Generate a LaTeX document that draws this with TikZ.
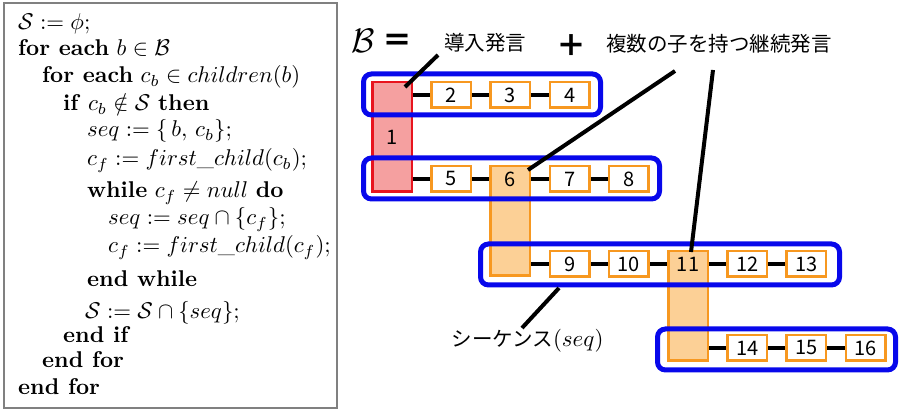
\documentclass[tikz,border=0pt]{standalone}
\usepackage{fontspec}
\newfontfamily\jp{Noto Sans CJK JP}
\definecolor{blueB}{RGB}{8,8,235}
\definecolor{orangeB}{RGB}{247,152,32}
\definecolor{orangeF}{RGB}{252,208,150}
\definecolor{redB}{RGB}{232,20,30}
\definecolor{redF}{RGB}{245,160,160}
\definecolor{frameG}{RGB}{128,128,128}
\newcommand{\cl}[1]{\scalebox{2.28}{#1}}
\begin{document}
\begin{tikzpicture}[x=1pt,y=-1pt,
  cell/.style={draw=orangeB, line width=2.5pt, fill=white, minimum width=39.5pt, minimum height=25.5pt, inner sep=0pt, font=\jp\fontsize{20}{24}\selectfont},
  tallcell/.style={cell, fill=orangeF, minimum height=109.5pt},
  redcell/.style={tallcell, draw=redB, fill=redF},
  numtext/.style={inner sep=0pt, font=\jp\fontsize{20}{24}\selectfont},
  seqbox/.style={draw=blueB, line width=5pt, rounded corners=8pt, inner sep=0pt},
  link/.style={line width=4.5pt},
  callout/.style={line width=4pt},
  code/.style={anchor=base west, inner sep=0pt, font=\normalsize},
  jlabel/.style={inner sep=0pt, font=\jp\fontsize{20.5}{24}\selectfont}]
\useasboundingbox (0,0) rectangle (900,411);
% left frame with pseudocode
\node[draw=frameG, line width=2pt, minimum width=333pt, minimum height=405pt, inner sep=0pt, anchor=north west] (frame) at (2.5,2.5) {};
\node[code] (l1) at (18,30) {\cl{$\mathcal{S} := \phi;$}};
\node[code] (l2) at (18,56) {\cl{\textbf{for each} $b \in \mathcal{B}$}};
\node[code] (l3) at (42,83) {\cl{\textbf{for each} $c_b \in children(b)$}};
\node[code] (l4) at (63,111) {\cl{\textbf{if} $c_b \notin \mathcal{S}$ \textbf{then}}};
\node[code] (l5) at (87,137) {\cl{$seq := \{\, b,\, c_b\};$}};
\node[code] (l6) at (87,166) {\cl{$c_f := first\_child(c_b);$}};
\node[code] (l7) at (87,198) {\cl{\textbf{while} $c_f \neq null$ \textbf{do}}};
\node[code] (l8) at (108,225) {\cl{$seq := seq \cap \{c_f\};$}};
\node[code] (l9) at (108,253) {\cl{$c_f := first\_child(c_f);$}};
\node[code] (l10) at (87,287) {\cl{\textbf{end while}}};
\node[code] (l11) at (85,319) {\cl{$\mathcal{S} := \mathcal{S} \cap \{seq\};$}};
\node[code] (l12) at (63,343) {\cl{\textbf{end if}}};
\node[code] (l13) at (42,368) {\cl{\textbf{end for}}};
\node[code] (l14) at (18,395) {\cl{\textbf{end for}}};
% header
\node[anchor=base, inner sep=0pt] (B) at (363,53) {\scalebox{3.4}{$\mathcal{B}$}};
\node[inner sep=0pt, font=\jp\bfseries\fontsize{30}{34}\selectfont] (eq) at (397,43) {＝};
\node[jlabel] (intro) at (485,42.5) {導入発言};
\node[inner sep=0pt, font=\jp\bfseries\fontsize{30}{34}\selectfont] (plus) at (571.5,46) {＋};
\node[jlabel] (multi) at (719,44) {複数の子を持つ継続発言};
% tall cells
\node[redcell] (t1) at (392,137) {1};
\node[tallcell] (t6) at (510.4,221) {};
\node[tallcell] (t11) at (688,306) {};
% sequence boxes
\node[seqbox, minimum width=237pt, minimum height=41pt] (s1) at (482,94.5) {};
\node[seqbox, minimum width=296pt, minimum height=41pt] (s2) at (511.5,178.5) {};
\node[seqbox, minimum width=359pt, minimum height=41pt] (s3) at (660,264.5) {};
\node[seqbox, minimum width=238pt, minimum height=41pt] (s4) at (776.5,349.5) {};
% cells
\node[cell] (n2) at (451.2,95) {2};
\node[cell] (n3) at (510.4,95) {3};
\node[cell] (n4) at (569.6,95) {4};
\node[cell] (n5) at (451.2,179) {5};
\node[numtext] (n6) at (510.4,179) {6};
\node[cell] (n7) at (569.6,179) {7};
\node[cell] (n8) at (628.8,179) {8};
\node[cell] (n9) at (569.6,264) {9};
\node[cell] (n10) at (628.8,264) {10};
\node[numtext] (n11) at (688,264) {11};
\node[cell] (n12) at (747.2,264) {12};
\node[cell] (n13) at (806.4,264) {13};
\node[cell] (n14) at (747.2,348) {14};
\node[cell] (n15) at (806.4,348) {15};
\node[cell] (n16) at (865.6,348) {16};
% links
\draw[link] (t1.east |- n2) -- (n2.west);
\draw[link] (n2) -- (n3);
\draw[link] (n3) -- (n4);
\draw[link] (t1.east |- n5) -- (n5.west);
\draw[link] (n5.east) -- (t6.west |- n5);
\draw[link] (t6.east |- n7) -- (n7.west);
\draw[link] (n7) -- (n8);
\draw[link] (t6.east |- n9) -- (n9.west);
\draw[link] (n9) -- (n10);
\draw[link] (n10.east) -- (t11.west |- n10);
\draw[link] (t11.east |- n12) -- (n12.west);
\draw[link] (n12) -- (n13);
\draw[link] (t11.east |- n14) -- (n14.west);
\draw[link] (n14) -- (n15);
\draw[link] (n15) -- (n16);
% redraw cells over link ends
\foreach \c/\t in {n2/2,n3/3,n4/4,n5/5,n7/7,n8/8,n9/9,n10/10,n12/12,n13/13,n14/14,n15/15,n16/16}{\node[cell] at (\c) {\t};}
% callouts
\coordinate (k1a) at (438,55);
\coordinate (k1b) at (405,87);
\coordinate (k2a) at (675,71);
\coordinate (k2b) at (528,170);
\coordinate (k3a) at (713,70);
\coordinate (k3b) at (691,252);
\coordinate (k4a) at (559,288);
\coordinate (k4b) at (522,328);
\draw[callout] (k1a) -- (k1b);
\draw[callout] (k2a) -- (k2b);
\draw[callout] (k3a) -- (k3b);
\draw[callout] (k4a) -- (k4b);
\node[inner sep=0pt] (seql) at (527.5,341) {{\jp\fontsize{20.5}{24}\selectfont シーケンス}\scalebox{2.3}{$(seq)$}};
\end{tikzpicture}
\end{document}
